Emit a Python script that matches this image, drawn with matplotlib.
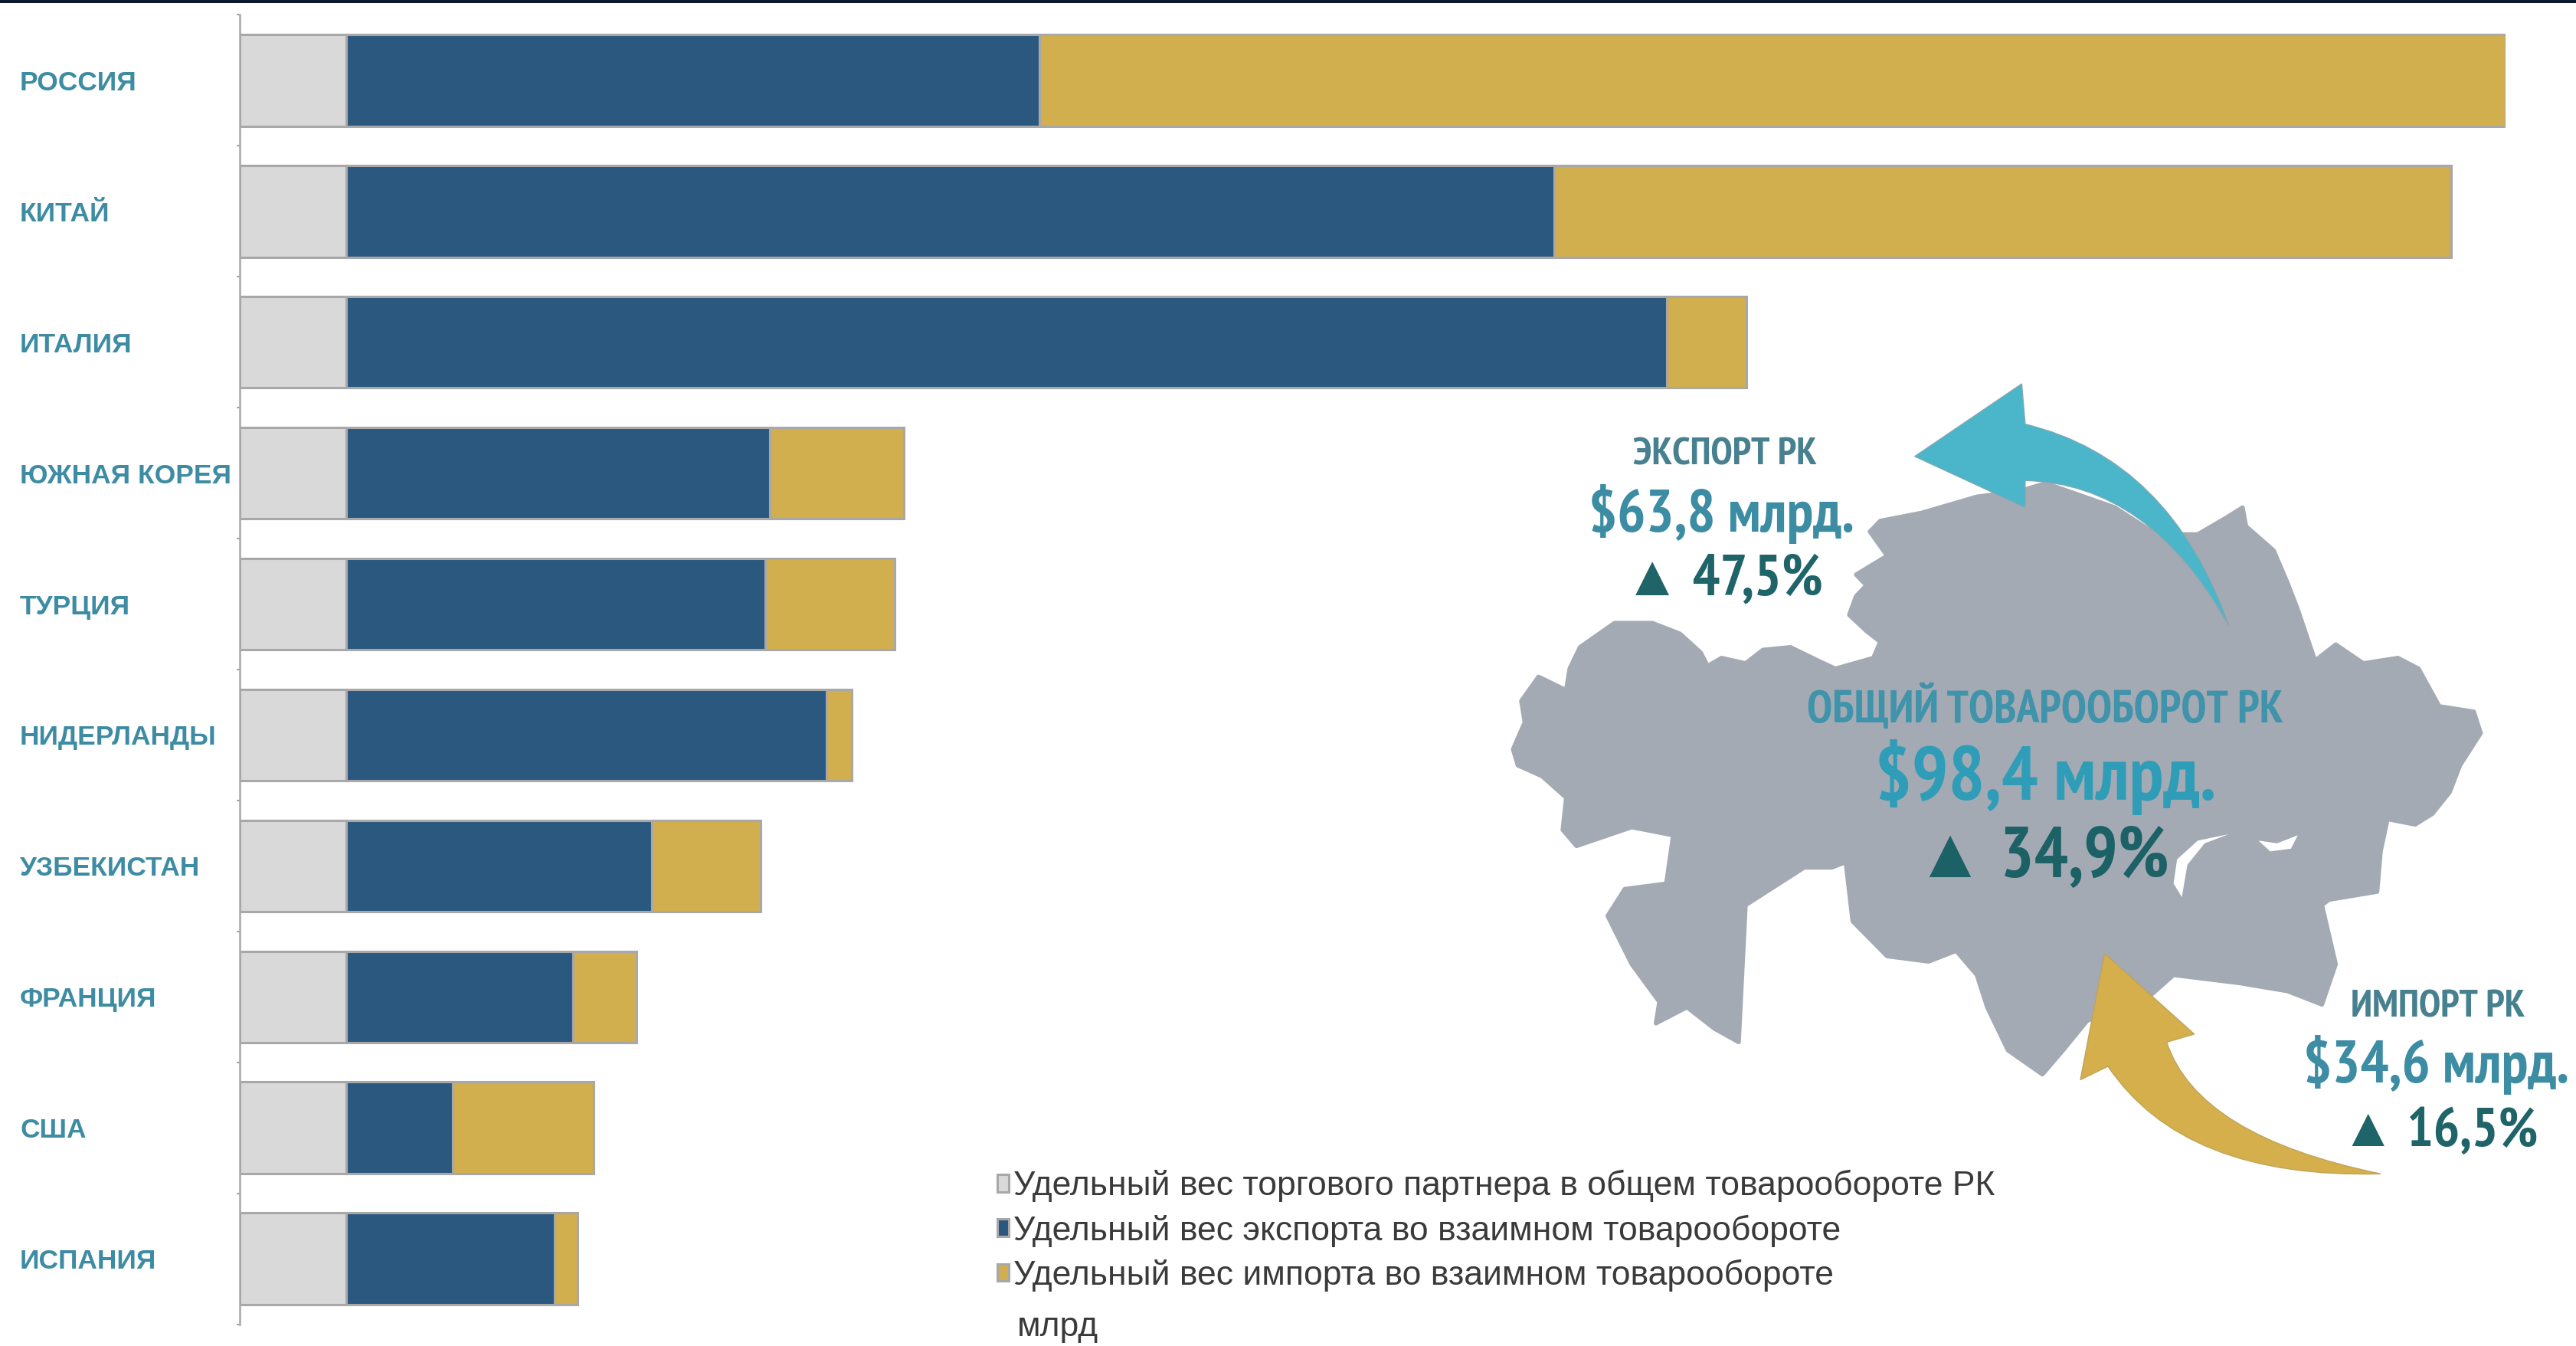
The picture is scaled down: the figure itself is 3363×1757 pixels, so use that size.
import matplotlib
matplotlib.use("Agg")
import logging
logging.getLogger('matplotlib.font_manager').setLevel(logging.ERROR)
import matplotlib.pyplot as plt
from matplotlib.patches import PathPatch, Polygon, Rectangle
from matplotlib.path import Path
from matplotlib import font_manager as fm

W, H = 3363, 1757
FONT = ['PT Sans Narrow', 'Liberation Sans', 'DejaVu Sans']

# ---- data (share scale, Russia's full bar = 100) ----
categories = ['РОССИЯ', 'КИТАЙ', 'ИТАЛИЯ', 'ЮЖНАЯ КОРЕЯ', 'ТУРЦИЯ',
              'НИДЕРЛАНДЫ', 'УЗБЕКИСТАН', 'ФРАНЦИЯ', 'США', 'ИСПАНИЯ']
partner_share = [4.7, 4.7, 4.7, 4.7, 4.7, 4.7, 4.7, 4.7, 4.7, 4.7]
export_share = [30.6, 53.3, 58.3, 18.7, 18.5, 21.2, 13.5, 10.0, 4.7, 9.2]
import_share = [64.7, 39.6, 3.5, 5.9, 5.7, 1.1, 4.8, 2.8, 6.2, 1.0]
legend_labels = ['Удельный вес торгового партнера в общем товарообороте РК',
                 'Удельный вес экспорта во взаимном товарообороте',
                 'Удельный вес импорта во взаимном товарообороте']

# ---- decorative map outline ----
map_outline = [(28,710),(45,660),(40,620),(65,575),(105,600),(110,560),(125,520),(175,475),(230,475),
    (270,495),(300,530),(310,555),(330,540),(365,550),(390,525),(430,520),(470,545),(495,560),(550,540),
    (560,510),(540,490),(515,460),(525,425),(540,405),(525,385),(570,350),(545,305),(560,285),(620,270),
    (700,240),(760,230),(800,215),(900,260),(960,310),(1020,310),(1060,280),(1085,260),(1090,295),
    (1130,340),(1150,400),(1165,450),(1190,545),(1220,515),(1260,550),(1310,540),(1340,560),(1370,630),
    (1420,640),(1430,680),(1400,740),(1385,790),(1360,830),(1335,850),(1295,840),(1285,900),(1280,975),
    (1210,990),(1200,1000),(1220,1110),(1200,1185),(1150,1160),(1080,1145),(985,1130),(950,1170),
    (860,1215),(825,1270),(795,1315),(745,1270),(715,1190),(700,1130),(670,1085),(630,1105),(570,1095),
    (520,1030),(510,920),(490,930),(450,930),(365,1000),(355,1255),(320,1230),(280,1190),(235,1220),
    (240,1180),(200,1110),(165,1020),(190,970),(250,960),(260,870),(200,855),(120,890),(100,860),
    (105,800),(70,760),(35,740)]

S = W / 1568
def Z(p):
    return (1950 + p[0] / 1.1097, 480 + p[1] / 1.4255)
def P(x, y):
    return (x * S, y * S)

fig = plt.figure(figsize=(W / 100, H / 100), dpi=100, facecolor='white')

# ---- bars ----
ax = fig.add_axes([146 * S / W, 1 - 806 * S / H, 1379 * S / W, 797 * S / H])
ypos = list(range(len(categories)))
left2 = [a for a in partner_share]
left3 = [a + b for a, b in zip(partner_share, export_share)]
edge = dict(edgecolor='#a8a8a8', linewidth=2.2, height=0.7)
b1 = ax.barh(ypos, partner_share, color='#D9D9D9', **edge)
b2 = ax.barh(ypos, export_share, left=left2, color='#2B587F', **edge)
b3 = ax.barh(ypos, import_share, left=left3, color='#D2AF4E', **edge)
ax.set_xlim(0, 100)
ax.set_ylim(9.5, -0.5)
for s in ['top', 'right', 'bottom']:
    ax.spines[s].set_visible(False)
ax.spines['left'].set_color('#a8a8a8')
ax.spines['left'].set_linewidth(1.8)
ax.set_xticks([])
ax.set_yticks(ypos, categories)
ax.tick_params(axis='y', which='major', length=0, pad=(146 * S - 26) * 0.72)
ax.set_yticks([i - 0.5 for i in range(11)], minor=True)
ax.tick_params(axis='y', which='minor', length=3, width=1.5, color='#a8a8a8')
for lab in ax.get_yticklabels():
    lab.set_ha('left')
    lab.set_family('Liberation Sans')
    lab.set_fontweight('bold')
    lab.set_fontsize(25.5)
    lab.set_color('#3D8CA3')

# ---- overlay: frame line, map, arrows, callouts ----
ov = fig.add_axes([0, 0, 1, 1], facecolor='none')
ov.set_xlim(0, W)
ov.set_ylim(H, 0)
ov.axis('off')
ov.add_patch(Rectangle((0, 0), W, 3.5, color='#0B1A2B', lw=0))
ov.add_patch(Polygon([Z(p) for p in map_outline], closed=True, facecolor='#A4AAB3',
                     edgecolor='#A4AAB3', lw=4, joinstyle='round'))
ov.add_patch(Polygon([Z(p) for p in [(985,960),(990,915),(1020,880),(1065,868),(1030,885),(1005,925),(997,985)]],
                     closed=True, facecolor='white', edgecolor='none'))
ov.add_patch(Polygon([Z(p) for p in [(1108,880),(1135,885),(1165,870),(1155,895),(1125,900)]],
                     closed=True, facecolor='white', edgecolor='none'))

v = [(610,165),(765,30),(770,105),(980,170),(1065,480),(950,215),(770,210),(770,260),(610,165)]
c = [Path.MOVETO, Path.LINETO, Path.LINETO, Path.CURVE3, Path.CURVE3, Path.CURVE3, Path.CURVE3, Path.LINETO, Path.CLOSEPOLY]
ov.add_patch(PathPatch(Path([Z(p) for p in v], c), facecolor='#4BB5C9', edgecolor='#7FA9B5', lw=1))
v = [(885,1090),(1015,1240),(975,1255),(1020,1430),(1285,1500),(1000,1510),(890,1300),(850,1325),(885,1090)]
ov.add_patch(PathPatch(Path([Z(p) for p in v], c), facecolor='#D4AF4B', edgecolor='#BFA45A', lw=1))

def T(x, y, s, size, color, weight='bold'):
    X, Y = P(x, y)
    ov.text(X, Y, s, ha='center', va='center', fontsize=size, color=color, fontweight=weight, family=FONT)

T(1050, 277, 'ЭКСПОРТ РК', 37, '#47808F')
T(1048, 313, '$63,8 млрд.', 56, '#3C8CA3')
T(1049, 353, '▲ 47,5%', 54, '#1F6468')
T(1245, 431, 'ОБЩИЙ ТОВАРООБОРОТ РК', 43, '#3F93AA')
T(1245, 473, '$98,4 млрд.', 72, '#2F9DB8')
T(1243, 523, '▲ 34,9%', 67, '#1B6166')
T(1484, 613, 'ИМПОРТ РК', 37, '#47808F')
T(1483, 648, '$34,6 млрд.', 56, '#3C8CA3')
T(1485, 689, '▲ 16,5%', 52, '#1F6468')

# ---- legend ----
leg = ax.legend([b1, b2, b3], legend_labels, loc='upper left',
                bbox_to_anchor=(607 * S / W, 1 - 712 * S / H), bbox_transform=fig.transFigure,
                frameon=False, handlelength=0.35, handleheight=0.4, handletextpad=0.12,
                borderpad=0, borderaxespad=0, labelspacing=0.36,
                prop=fm.FontProperties(family='Liberation Sans', size=32), labelcolor='#3A3A3A')
X, Y = P(644, 808)
ov.text(X, Y, 'млрд', ha='center', va='center', fontsize=32, color='#3A3A3A', family='Liberation Sans')

fig.savefig('out.png', dpi=100, facecolor='white')
